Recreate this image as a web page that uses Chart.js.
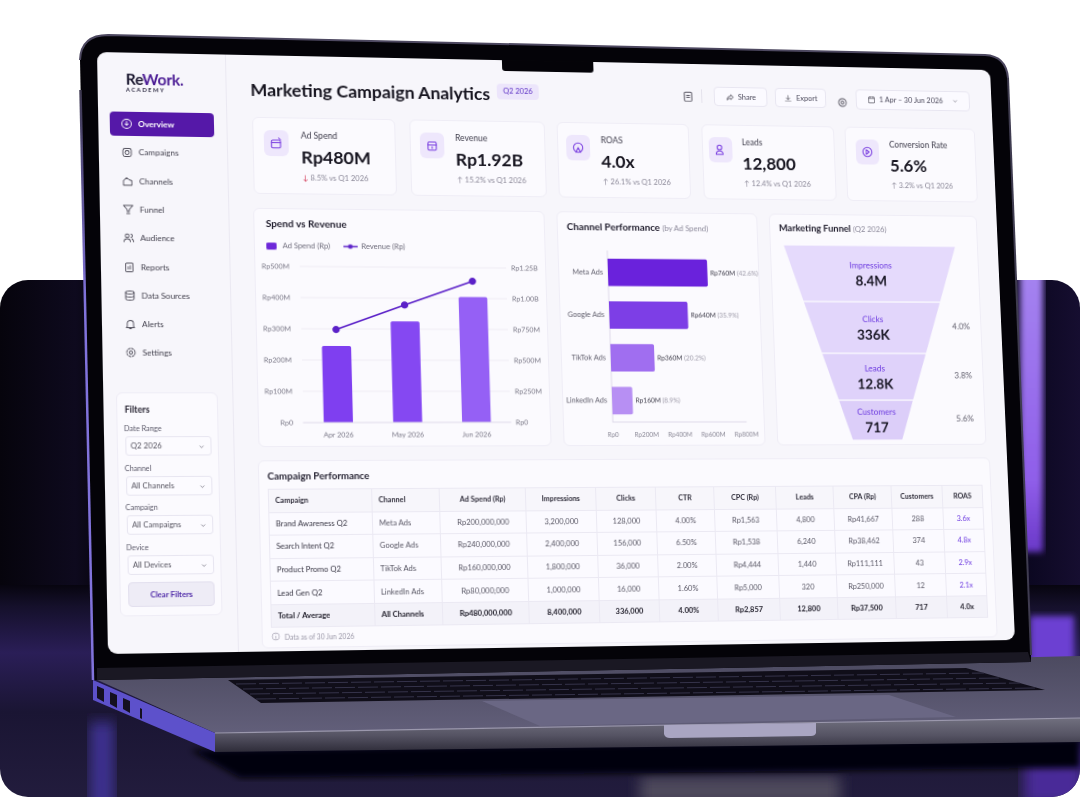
<!DOCTYPE html>
<html>
<head>
<meta charset="utf-8">
<title>Marketing Campaign Analytics</title>
<script src="https://cdn.jsdelivr.net/npm/chart.js@4/dist/chart.umd.min.js"></script>
<style>
  html, body { margin: 0; padding: 0; background: #fff; overflow: hidden; }
  body { width: 1080px; height: 797px; position: relative; font-family: Lato, "Noto Sans", sans-serif; color: #1b1926; }
  #scene { position: absolute; left: 0; top: 0; }
  #screen { position: absolute; left: 0; top: 0; width: 900px; height: 590px; background: #f7f6fb; border-radius: 9px; overflow: hidden; transform-origin: 0 0; filter: blur(0.25px); }
  #screen > * { position: absolute; }
  #screen canvas { position: absolute; left: 0; top: 0; }
  .card { background: #fbfafe; border: 1px solid #efedf6; border-radius: 6px; box-sizing: border-box; }
  .ctl { background: #fbfaff; border: 1px solid #e8e6f1; border-radius: 4px; box-sizing: border-box; font-size: 7.5px; color: #4c4a5c; display: flex; align-items: center; justify-content: center; gap: 4px; }
  .nav { display: flex; align-items: center; gap: 5px; left: 11px; width: 100px; height: 24px; padding-left: 10px; box-sizing: border-box; font-size: 8px; color: #44424f; border-radius: 4px; }
  .nav.on { background: #5518a8; color: #fff; font-weight: 700; }
  .flabel { font-size: 7px; color: #5d5b6b; }
  .fsel { width: 82px; height: 19px; background: #fcfbff; border: 1px solid #e8e6f1; border-radius: 3px; box-sizing: border-box; font-size: 7.5px; color: #55535f; line-height: 17px; padding-left: 4px; }
  .fsel svg { position: absolute; right: 5px; top: 6px; }
  .ctitle { font-size: 10px; font-weight: 700; color: #1f1c2c; white-space: nowrap; }
  .ctitle span { font-weight: 400; font-size: 7.8px; color: #8d8a9b; }
  .klabel { font-size: 8.5px; color: #3e3c4b; white-space: nowrap; }
  .kvalue { font-size: 17.5px; font-weight: 700; color: #16141f; white-space: nowrap; }
  .ksub { font-size: 7.5px; color: #8b8898; white-space: nowrap; }
  .ktile { width: 24px; height: 26px; border-radius: 6px; background: #eee7fc; display: flex; align-items: center; justify-content: center; }
  table { border-collapse: collapse; table-layout: fixed; font-size: 7.5px; color: #5a5866; background: #fbfaff; }
  th, td { border: 1px solid #ebe9f3; text-align: center; padding: 0; height: 21.6px; white-space: nowrap; overflow: hidden; }
  th { background: #f7f6fb; color: #2f2d3a; font-weight: 700; font-size: 7.2px; height: 21.5px; }
  td.l, th.l { text-align: left; padding-left: 6px; }
  td.first { color: #3a3846; }
  td.roas { color: #6d3be0; }
  tr.total td { background: #f3f2f9; color: #1f1d29; font-weight: 700; }
</style>
</head>
<body>

<svg id="scene" width="1080" height="797" viewBox="0 0 1080 797">
  <defs>
    <linearGradient id="wall" x1="0" y1="0" x2="1" y2="0">
      <stop offset="0" stop-color="#06040c"/><stop offset=".07" stop-color="#0e0a1e"/>
      <stop offset=".1" stop-color="#050309"/><stop offset=".95" stop-color="#0b0720"/>
      <stop offset="1" stop-color="#160e30"/>
    </linearGradient>
    <linearGradient id="floor" x1="0" y1="0" x2="0" y2="1">
      <stop offset="0" stop-color="#07050f"/><stop offset=".1" stop-color="#15102b"/><stop offset=".32" stop-color="#2a1e57"/>
      <stop offset=".6" stop-color="#1a1533"/><stop offset="1" stop-color="#221c3d"/>
    </linearGradient>
    <linearGradient id="deck" x1="0" y1="0" x2="0" y2="1">
      <stop offset="0" stop-color="#4c4a60"/><stop offset="1" stop-color="#625f7a"/>
    </linearGradient>
    <linearGradient id="front" x1="0" y1="0" x2="0" y2="1">
      <stop offset="0" stop-color="#71707f"/><stop offset=".5" stop-color="#565464"/><stop offset="1" stop-color="#2e2c39"/>
    </linearGradient>
    <linearGradient id="glow" x1="0" y1="0" x2="0" y2="1">
      <stop offset="0" stop-color="#a584f0"/><stop offset=".75" stop-color="#8f5ee9"/><stop offset="1" stop-color="#6a38c8"/>
    </linearGradient>
    <linearGradient id="rim" gradientUnits="userSpaceOnUse" x1="0" y1="90" x2="0" y2="300">
      <stop offset="0" stop-color="#3d384f"/><stop offset="1" stop-color="#8173dc"/>
    </linearGradient>
    <filter id="b3"><feGaussianBlur stdDeviation="3"/></filter>
    <filter id="b6"><feGaussianBlur stdDeviation="7"/></filter>
    <clipPath id="panel"><rect x="0" y="280" width="1080" height="517" rx="28"/></clipPath>
  </defs>
  <g clip-path="url(#panel)">
    <rect x="0" y="280" width="1080" height="320" fill="url(#wall)"/>
    <rect x="0" y="585" width="1080" height="212" fill="url(#floor)"/>
    <rect x="1020" y="270" width="23" height="282" fill="url(#glow)" filter="url(#b3)"/>
    <rect x="1030" y="616" width="44" height="50" fill="#6c3fd2" filter="url(#b3)"/>
    <rect x="1024" y="745" width="60" height="60" fill="#4a2a98" filter="url(#b6)"/>
    <rect x="90" y="722" width="24" height="90" fill="#3d3090" filter="url(#b6)"/>
    <rect x="640" y="776" width="200" height="30" fill="#4d4a5c" filter="url(#b6)"/>
  </g>
  <!-- shadow under the base -->
  <path d="M190,750 L1080,738 L1080,768 L240,778 Z" fill="#030207" filter="url(#b3)"/>
  <!-- base -->
  <path d="M93,678 L1080,656 L1080,718 L215,733 Z" fill="url(#deck)"/>
  <path d="M215,733 L1080,718 L1080,742 L215,752 Z" fill="url(#front)"/>
  <path d="M215,733 L1080,718" stroke="#9b98ad" stroke-width="1.2" fill="none"/>
  <path d="M93,680 L215,733 L215,752 L93,700 Z" fill="#5d51cb"/>
  <path d="M97,686 L104,689 L104,702 L97,698 Z M110,692 L117,695 L117,708 L110,704 Z M123,698 L130,701 L130,713 L123,709 Z" fill="#14101f"/>
  <path d="M140,708 L142,709 L142,719 L140,718 Z" fill="#14101f"/>
  <!-- keyboard -->
  <path d="M228,680 L966,668 L1045,690 L261,703 Z" fill="#100e19"/>
  <g stroke="#35334a" stroke-width="1" stroke-dasharray="20 3" fill="none">
    <path d="M236,684 L984,673"/><path d="M243,689 L1002,678"/><path d="M250,694 L1020,683"/><path d="M256,699 L1037,688"/>
  </g>
  <!-- trackpad and lid notch -->
  <path d="M482,701 L889,695 L956,717 L540,726 Z" fill="#6a6784"/>
  <path d="M664,725 L816,723 L816,733 Q815,736 811,736 L670,738 Q665,738 664,734 Z" fill="#a9a5c2"/>
  <!-- lid -->
  <path d="M80,60 Q81,35 108,35 L985,55 Q1006,56 1008,78 L1031,655 L1031,662 L97,680 L93,680 Z" fill="#040308"/>
  <path d="M80,60 Q81,35 108,35 L985,55 Q1006,56 1008,78" fill="none" stroke="#4d4860" stroke-width="2"/>
  <path d="M80.500,90 L93,680" fill="none" stroke="url(#rim)" stroke-width="2.5"/>
  <path d="M1008,78 L1031,655" fill="none" stroke="#3f3c50" stroke-width="2"/>
  <path d="M97,668 L1028,652 L1031,662 L97,680 Z" fill="#1a1823"/>
</svg>

<div id="screen"></div>

<script>
// --- DATA ---
const months = ['Apr 2026', 'May 2026', 'Jun 2026'];
const adSpend = [245, 325, 405];        // Rp million
const revenue = [745, 945, 1140];       // Rp million

const channels = ['Meta Ads', 'Google Ads', 'TikTok Ads', 'LinkedIn Ads'];
// bar lengths as they stand against the drawn axis; the printed amounts are larger in the picture
const channelBars = [598, 471, 261, 122];
const channelAmounts = ['Rp760M', 'Rp640M', 'Rp360M', 'Rp160M'];
const channelShares = ['(42.6%)', '(35.9%)', '(20.2%)', '(8.9%)'];

const funnelStages = ['Impressions', 'Clicks', 'Leads', 'Customers'];
const funnelValues = ['8.4M', '336K', '12.8K', '717'];
const funnelRates = ['', '4.0%', '3.8%', '5.6%'];
const funnelWidths = [180, 143, 109, 78, 52];
const funnelDepths = [0, 58, 111, 159, 200];

const kpiNames = ['Ad Spend', 'Revenue', 'ROAS', 'Leads', 'Conversion Rate'];
const kpiValues = ['Rp480M', 'Rp1.92B', '4.0x', '12,800', '5.6%'];
const kpiChanges = ['8.5%', '15.2%', '26.1%', '12.4%', '3.2%'];
const kpiUp = [false, true, true, true, true];

const navItems = ['Overview', 'Campaigns', 'Channels', 'Funnel', 'Audience', 'Reports', 'Data Sources', 'Alerts', 'Settings'];
const filterNames = ['Date Range', 'Channel', 'Campaign', 'Device'];
const filterValues = ['Q2 2026', 'All Channels', 'All Campaigns', 'All Devices'];

const tableHead = ['Campaign', 'Channel', 'Ad Spend (Rp)', 'Impressions', 'Clicks', 'CTR', 'CPC (Rp)', 'Leads', 'CPA (Rp)', 'Customers', 'ROAS'];
const rowBrand = ['Brand Awareness Q2', 'Meta Ads', 'Rp200,000,000', '3,200,000', '128,000', '4.00%', 'Rp1,563', '4,800', 'Rp41,667', '288', '3.6x'];
const rowSearch = ['Search Intent Q2', 'Google Ads', 'Rp240,000,000', '2,400,000', '156,000', '6.50%', 'Rp1,538', '6,240', 'Rp38,462', '374', '4.8x'];
const rowPromo = ['Product Promo Q2', 'TikTok Ads', 'Rp160,000,000', '1,800,000', '36,000', '2.00%', 'Rp4,444', '1,440', 'Rp111,111', '43', '2.9x'];
const rowLead = ['Lead Gen Q2', 'LinkedIn Ads', 'Rp80,000,000', '1,000,000', '16,000', '1.60%', 'Rp5,000', '320', 'Rp250,000', '12', '2.1x'];
const rowTotal = ['Total / Average', 'All Channels', 'Rp480,000,000', '8,400,000', '336,000', '4.00%', 'Rp2,857', '12,800', 'Rp37,500', '717', '4.0x'];

// --- LAYOUT ---
const FONT = 'Lato, "Noto Sans", sans-serif';
const screenEl = document.getElementById('screen');

// where the flat 900x590 screen lands in the photo
const screenCorners = [[97, 52], [990, 70], [1015, 640], [108, 654]];

function placeScreen(w, h, p) {
    const [x0, y0] = p[0], [x1, y1] = p[1], [x2, y2] = p[2], [x3, y3] = p[3];
    const dx1 = x1 - x2, dx2 = x3 - x2, sx = x0 - x1 + x2 - x3;
    const dy1 = y1 - y2, dy2 = y3 - y2, sy = y0 - y1 + y2 - y3;
    const den = dx1 * dy2 - dx2 * dy1;
    const g = (sx * dy2 - dx2 * sy) / den;
    const k = (dx1 * sy - sx * dy1) / den;
    const a = (x1 - x0 + g * x1) / w, b = (x3 - x0 + k * x3) / h;
    const d = (y1 - y0 + g * y1) / w, e = (y3 - y0 + k * y3) / h;
    screenEl.style.transform = `matrix3d(${a},${d},0,${g / w}, ${b},${e},0,${k / h}, 0,0,1,0, ${x0},${y0},0,1)`;
}

function add(x, y, w, h, cls, html) {
    const el = document.createElement('div');
    el.className = cls || '';
    el.style.left = x + 'px';
    el.style.top = y + 'px';
    if (w) el.style.width = w + 'px';
    if (h) el.style.height = h + 'px';
    el.innerHTML = html || '';
    screenEl.appendChild(el);
    return el;
}

function icon(paths, size, color) {
    return `<svg width="${size}" height="${size}" viewBox="0 0 24 24" fill="none" stroke="${color}" stroke-width="1.8" stroke-linecap="round" stroke-linejoin="round">${paths}</svg>`;
}

const navIcons = [
    '<circle cx="12" cy="12" r="9"/><path d="M12 7v8M9 12l3 3 3-3"/>',
    '<rect x="4" y="5" width="16" height="16" rx="4"/><circle cx="12" cy="13" r="4"/>',
    '<path d="M4 20V11l6-6 5 4 5 2v9z"/>',
    '<path d="M3 4h18l-7 8v4h-4v-4zM9 20h6"/>',
    '<circle cx="9" cy="8" r="3.5"/><path d="M3 20c0-4 3-6 6-6s6 2 6 6M16 5a3 3 0 0 1 0 6M18 14c2 1 3 3 3 6"/>',
    '<rect x="5" y="4" width="14" height="17" rx="2"/><path d="M10 16v-5M14 16V9"/>',
    '<ellipse cx="12" cy="6" rx="8" ry="3"/><path d="M4 6v12c0 1.700 4 3 8 3s8-1.300 8-3V6M4 12c0 1.700 4 3 8 3s8-1.300 8-3"/>',
    '<path d="M6 17V11a6 6 0 0 1 12 0v6l2 2H4zM10 21h4"/>',
    '<circle cx="12" cy="12" r="3"/><circle cx="12" cy="12" r="8" stroke-dasharray="4 2.300"/>'
];
const chevron = icon('<path d="M6 9l6 6 6-6"/>', 7, '#6c6a78');

function buildSidebar() {
    add(123, 0, 1, 590, '', '').style.background = '#ebe9f2';
    add(27, 16, 0, 0, '', `<div style="font-size:15px;font-weight:700;letter-spacing:-.2px;color:#1b1830;white-space:nowrap;line-height:20px">Re<span style="color:#4c1d95">Work.</span></div>
        <div style="font-size:5.5px;font-weight:700;letter-spacing:1.500px;color:#2b2840;margin-top:-2px">ACADEMY</div>`);
    navItems.forEach((name, i) => {
        const on = i === 0;
        const row = add(11, 59 + i * 28.300, 0, 0, 'nav' + (on ? ' on' : ''), icon(navIcons[i], 12, on ? '#fff' : '#55535f') + `<span>${name}</span>`);
        row.style.width = '100px';
        row.style.height = '24px';
    });

    add(12, 336, 97, 218, 'card');
    add(20, 348, 0, 0, '', '<div style="font-size:8.5px;font-weight:700;color:#24212f">Filters</div>');
    filterNames.forEach((name, i) => {
        const top = 379 + i * 38.700;
        add(19, top - 12, 0, 0, 'flabel', name);
        add(20, top, 0, 0, 'fsel', filterValues[i] + chevron);
    });
    const clear = add(20, 521, 82, 24, '', '<div style="text-align:center;line-height:24px;font-size:7.5px;font-weight:700;color:#4f2aa8">Clear Filters</div>');
    clear.style.background = '#eeecf6';
    clear.style.border = '1px solid #e2dfee';
    clear.style.borderRadius = '4px';
    clear.style.boxSizing = 'border-box';
}

function buildHeader() {
    add(147, 24, 0, 0, '', '<div style="font-size:17.4px;font-weight:700;color:#15131e;white-space:nowrap;line-height:22px">Marketing Campaign Analytics</div>');
    add(390, 24, 42, 16, '', '<div style="background:#ece5fb;border-radius:4px;text-align:center;line-height:16px;font-size:7.5px;color:#5b2fc4">Q2 2026</div>');
    add(577, 24, 0, 0, '', icon('<rect x="5" y="4" width="14" height="17" rx="2"/><path d="M9 10h6M9 14h6"/>', 13, '#55535f'));
    add(597, 26, 1, 14, '').style.background = '#e4e2ec';
    add(610, 23, 55, 20, 'ctl', icon('<path d="M14 5l7 7-7 7v-4c-5 0-8 1-10 5 0-6 3-10 10-11z"/>', 9, '#55535f') + 'Share');
    add(673, 23, 53, 20, 'ctl', icon('<path d="M12 4v11M7 11l5 5 5-5M4 20h16"/>', 9, '#55535f') + 'Export');
    add(737, 27, 0, 0, '', icon('<circle cx="12" cy="12" r="8"/><circle cx="12" cy="12" r="3"/>', 12, '#55535f'));
    add(757, 23, 120, 21, 'ctl', icon('<rect x="4" y="5" width="16" height="16" rx="2"/><path d="M4 10h16M8 3v4M16 3v4"/>', 9, '#55535f') + '1 Apr – 30 Jun 2026&nbsp;&nbsp;&nbsp;' + chevron);
    add(396, -1, 92, 12, '', '<div style="background:#040308;height:12px;border-radius:0 0 3px 3px"></div>');
}

const kpiIcons = [
    '<rect x="4" y="7" width="15" height="13" rx="2"/><path d="M4 11h15M16 3l3 3"/>',
    '<rect x="5" y="6" width="14" height="14" rx="2"/><path d="M5 11h14M12 14v3"/>',
    '<circle cx="12" cy="12" r="8"/><path d="M8 20l4-8 4 8"/>',
    '<circle cx="10" cy="8" r="4"/><path d="M4 20c0-4 3-6 6-6s6 2 6 6z"/>',
    '<circle cx="12" cy="12" r="8"/><path d="M10 8l5 4-5 4z"/>'
];

function buildKpis() {
    const lefts = [148, 302, 449, 596, 744];
    const rights = [288, 437, 583, 733, 881];
    const tiles = [11, 10, 9, 7, 11];
    const texts = [47, 45, 44, 41, 46];
    kpiNames.forEach((name, i) => {
        const x = lefts[i];
        add(x, 62, rights[i] - x, 77, 'card');
        add(x + tiles[i], 75, 0, 0, 'ktile', icon(kpiIcons[i], 14, '#7a3fe0')).style.width = '24px';
        add(x + texts[i], 75, 0, 0, 'klabel', name);
        add(x + texts[i], 91, 0, 0, 'kvalue', kpiValues[i]);
        const arrow = kpiUp[i] ? '<span style="color:#8b8898">↑</span>' : '<span style="color:#d0314f">↓</span>';
        add(x + texts[i] + 1, 118, 0, 0, 'ksub', `${arrow} ${kpiChanges[i]} vs Q1 2026`);
    });
}

function buildTable() {
    add(146, 403, 736, 184, 'card');
    const title = add(155, 413, 0, 0, 'ctitle', 'Campaign Performance');
    title.style.fontSize = '9.5px';
    const widths = [100, 66, 85, 70, 60, 59, 63, 59, 60, 53, 42];
    const cols = widths.map(w => `<col style="width:${w}px">`).join('');
    const head = tableHead.map((h, i) => `<th class="${i < 2 ? 'l' : ''}">${h}</th>`).join('');
    const rows = [rowBrand, rowSearch, rowPromo, rowLead, rowTotal].map((row, r) => {
        const cells = row.map((c, i) => {
            const cls = [];
            if (i < 2) cls.push('l');
            if (i === 0) cls.push('first');
            if (i === 10 && r < 4) cls.push('roas');
            return `<td class="${cls.join(' ')}">${c}</td>`;
        }).join('');
        return `<tr class="${r === 4 ? 'total' : ''}">${cells}</tr>`;
    }).join('');
    add(155, 431, 717, 0, '', `<table style="width:717px"><colgroup>${cols}</colgroup><tr>${head}</tr>${rows}</table>`);
    add(155, 571, 0, 0, '', '<div style="display:flex;align-items:center;gap:4px;font-size:6.6px;color:#9b98a8;white-space:nowrap">' +
        icon('<circle cx="12" cy="12" r="9"/><path d="M12 11v6M12 7.500v.1"/>', 9, '#a5a2b1') + 'Data as of 30 Jun 2026</div>');
}

function addChartCard(x, y, w, h, titleHtml, titleLeft, titleTop, titleSize) {
    const card = add(x, y, w, h, 'card');
    const title = document.createElement('div');
    title.className = 'ctitle';
    title.style.cssText = `position:absolute;left:${titleLeft}px;top:${titleTop}px;font-size:${titleSize}px`;
    title.innerHTML = titleHtml;
    card.appendChild(title);
    const canvas = document.createElement('canvas');
    canvas.width = w;
    canvas.height = h;
    canvas.style.width = w + 'px';
    canvas.style.height = h + 'px';
    card.appendChild(canvas);
    return canvas.getContext('2d');
}

function swatch(kind) {
    const c = document.createElement('canvas');
    c.width = kind === 'bar' ? 10 : 14;
    c.height = 7;
    const g = c.getContext('2d');
    if (kind === 'bar') {
        g.fillStyle = '#6d28d9';
        g.beginPath();
        g.roundRect(0, 0, 10, 7, 1.5);
        g.fill();
    } else {
        g.strokeStyle = g.fillStyle = '#5b21c8';
        g.lineWidth = 1.5;
        g.beginPath();
        g.moveTo(0, 3.5);
        g.lineTo(14, 3.5);
        g.stroke();
        g.beginPath();
        g.arc(7, 3.5, 2.3, 0, Math.PI * 2);
        g.fill();
    }
    return c;
}

const tickFont = { family: FONT, size: 7 };
const tickGrey = '#777584';

// keeps the plot below the legend at a fixed height
const legendRoom = {
    id: 'legendRoom',
    beforeInit(chart) {
        const fit = chart.legend.fit;
        chart.legend.fit = function () {
            fit.call(this);
            this.height = 33;
        };
    }
};

function initSpendChart() {
    const ctx = addChartCard(147, 153, 287, 237, 'Spend vs Revenue', 11, 8, 9.8);
    new Chart(ctx, {
        data: {
            labels: months,
            datasets: [
                { type: 'bar', label: 'Ad Spend (Rp)', data: adSpend, yAxisID: 'y', order: 2,
                  backgroundColor: ['#7f3ff0', '#8548f2', '#9560f5'], borderRadius: 2, barPercentage: 0.42, categoryPercentage: 1 },
                { type: 'line', label: 'Revenue (Rp)', data: revenue, yAxisID: 'y1', order: 1,
                  borderColor: '#5b21c8', backgroundColor: '#5b21c8', borderWidth: 1.6, pointRadius: 2.8, tension: 0 }
            ]
        },
        plugins: [legendRoom],
        options: {
            responsive: false,
            devicePixelRatio: 2,
            animation: false,
            layout: { padding: { top: 24 } },
            plugins: {
                tooltip: { enabled: false },
                legend: {
                    position: 'top',
                    align: 'start',
                    labels: {
                        usePointStyle: true,
                        pointStyleWidth: 14,
                        boxHeight: 7,
                        padding: 9,
                        color: '#6f6d7c',
                        font: { family: FONT, size: 7.5 },
                        generateLabels: chart => chart.data.datasets.map((d, i) => ({
                            text: d.label + '  ',
                            pointStyle: swatch(i === 0 ? 'bar' : 'line'),
                            fontColor: '#6f6d7c',
                            lineWidth: 0,
                            datasetIndex: i
                        }))
                    }
                }
            },
            scales: {
                x: {
                    afterFit: s => { s.height = 25; },
                    grid: { display: false, drawTicks: false },
                    border: { color: '#dedbea' },
                    ticks: { font: tickFont, color: tickGrey, padding: 8, maxRotation: 0 }
                },
                y: {
                    min: 0, max: 500,
                    afterFit: s => { s.width = 43; },
                    grid: { color: '#eeedf4', drawTicks: false },
                    border: { display: false },
                    ticks: { stepSize: 100, font: tickFont, color: tickGrey, padding: 10, callback: v => v === 0 ? 'Rp0' : `Rp${v}M` }
                },
                y1: {
                    position: 'right',
                    min: 0, max: 1250,
                    afterFit: s => { s.width = 41; },
                    grid: { display: false, drawTicks: false },
                    border: { display: false },
                    ticks: { stepSize: 250, font: tickFont, color: tickGrey, padding: 5,
                        callback: v => v === 0 ? 'Rp0' : v >= 1000 ? `Rp${(v / 1000).toFixed(2)}B` : `Rp${v}M` }
                }
            }
        }
    });
}

const channelLabels = {
    id: 'channelLabels',
    afterDatasetsDraw(chart) {
        const c = chart.ctx;
        chart.getDatasetMeta(0).data.forEach((bar, i) => {
            c.save();
            c.textBaseline = 'middle';
            c.font = `6.6px ${FONT}`;
            c.fillStyle = '#3a3846';
            const x = bar.x + 3;
            c.fillText(channelAmounts[i], x, bar.y);
            const w = c.measureText(channelAmounts[i] + ' ').width;
            c.fillStyle = '#9a97a6';
            c.fillText(channelShares[i], x + w, bar.y);
            c.restore();
        });
    }
};

function initChannelChart() {
    const ctx = addChartCard(446, 153, 204, 237, 'Channel Performance <span>(by Ad Spend)</span>', 9, 8, 9.8);
    new Chart(ctx, {
        type: 'bar',
        data: {
            labels: channels,
            datasets: [{ data: channelBars, backgroundColor: ['#6a22dc', '#7d3ee6', '#a06ef0', '#b78ff3'], borderRadius: 2, barPercentage: 0.64, categoryPercentage: 1 }]
        },
        plugins: [channelLabels],
        options: {
            indexAxis: 'y',
            responsive: false,
            devicePixelRatio: 2,
            animation: false,
            layout: { padding: { top: 39, right: 20 } },
            plugins: { legend: { display: false }, tooltip: { enabled: false } },
            scales: {
                x: {
                    min: 0, max: 800,
                    afterFit: s => { s.height = 25; },
                    grid: { display: false, tickLength: 3, tickColor: '#dedbea' },
                    border: { color: '#dedbea' },
                    ticks: { stepSize: 200, font: { family: FONT, size: 6.4 }, color: '#8a8896', padding: 6, maxRotation: 0,
                        callback: v => v === 0 ? 'Rp0' : `Rp${v}M` }
                },
                y: {
                    afterFit: s => { s.width = 49; },
                    grid: { display: false, drawTicks: false },
                    border: { color: '#dedbea' },
                    ticks: { font: { family: FONT, size: 7.3 }, color: '#5e5c6a', padding: 5 }
                }
            }
        }
    });
}

const funnelText = {
    id: 'funnelText',
    afterDatasetsDraw(chart) {
        const c = chart.ctx, sx = chart.scales.x, sy = chart.scales.y;
        const cx = sx.getPixelForValue(0);
        funnelStages.forEach((stage, i) => {
            const mid = sy.getPixelForValue((funnelDepths[i] + funnelDepths[i + 1]) / 2);
            c.save();
            c.textAlign = 'center';
            c.textBaseline = 'middle';
            c.font = `8.5px ${FONT}`;
            c.fillStyle = '#6d3be0';
            c.fillText(stage, cx, mid - 8);
            c.font = `700 14px ${FONT}`;
            c.fillStyle = '#1a1826';
            c.fillText(funnelValues[i], cx, mid + 8);
            if (funnelRates[i]) {
                c.font = `8.5px ${FONT}`;
                c.fillStyle = '#5e5c6a';
                c.fillText(funnelRates[i], sx.getPixelForValue(92), mid - 1);
            }
            c.restore();
        });
    }
};

function initFunnelChart() {
    const ctx = addChartCard(662, 153, 217, 237, 'Marketing Funnel <span>(Q2 2026)</span>', 9, 8, 9.5);
    const fills = ['#e5dafc', '#e2d6fb', '#dfd2fa', '#dccef9'];
    const datasets = funnelStages.map((s, i) => ({
        label: s,
        data: [
            { x: -funnelWidths[i] / 2, y: funnelDepths[i] },
            { x: funnelWidths[i] / 2, y: funnelDepths[i] },
            { x: funnelWidths[i + 1] / 2, y: funnelDepths[i + 1] },
            { x: -funnelWidths[i + 1] / 2, y: funnelDepths[i + 1] },
            { x: -funnelWidths[i] / 2, y: funnelDepths[i] }
        ],
        showLine: true,
        fill: 'shape',
        tension: 0,
        pointRadius: 0,
        borderColor: '#fbfafe',
        borderWidth: 1.2,
        backgroundColor: fills[i]
    }));
    new Chart(ctx, {
        type: 'scatter',
        data: { datasets },
        plugins: [funnelText],
        options: {
            responsive: false,
            devicePixelRatio: 2,
            animation: false,
            layout: { padding: 0 },
            plugins: { legend: { display: false }, tooltip: { enabled: false } },
            scales: {
                x: { display: false, min: -102.6, max: 114.4 },
                y: { display: false, min: -31, max: 206, reverse: true }
            }
        }
    });
}

placeScreen(900, 590, screenCorners);
buildSidebar();
buildHeader();
buildKpis();
initSpendChart();
initChannelChart();
initFunnelChart();
buildTable();
</script>
</body>
</html>
